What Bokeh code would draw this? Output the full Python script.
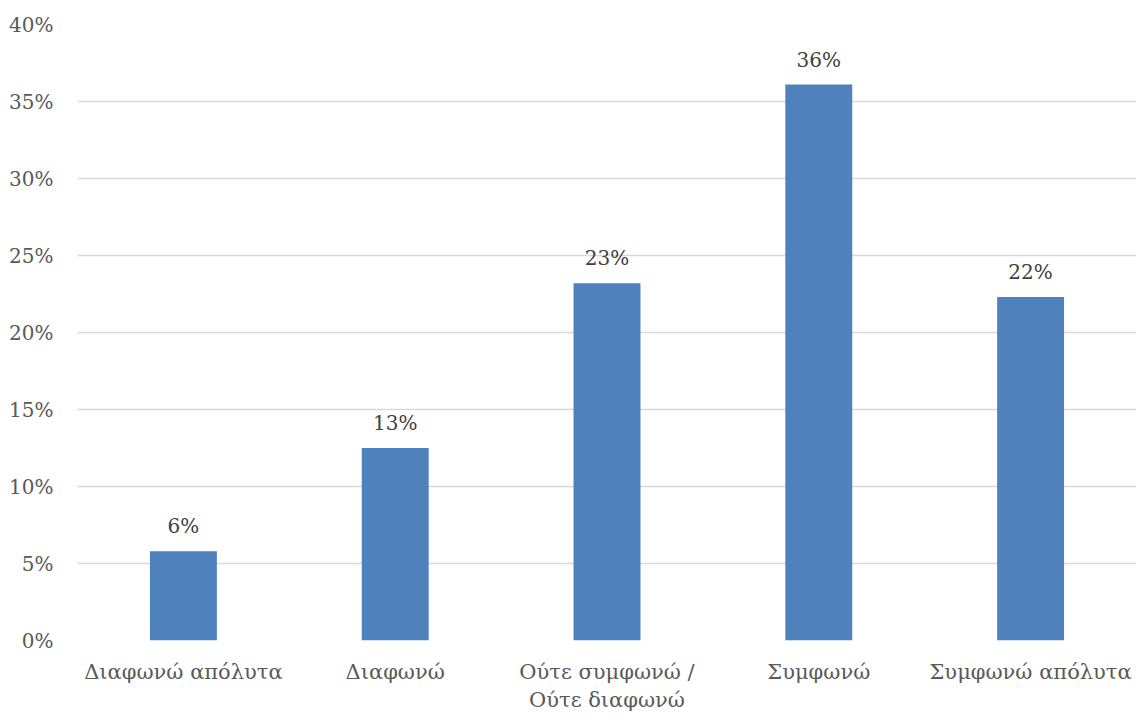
from bokeh.plotting import figure
from bokeh.models import ColumnDataSource, NumeralTickFormatter, FixedTicker, Range1d
from bokeh.core.properties import value
from bokeh.embed import file_html
from bokeh.resources import INLINE

categories = ["Διαφωνώ απόλυτα", "Διαφωνώ", "Ούτε συμφωνώ /\nΟύτε διαφωνώ", "Συμφωνώ", "Συμφωνώ απόλυτα"]
values = [0.058, 0.125, 0.232, 0.361, 0.223]
labels = ["6%", "13%", "23%", "36%", "22%"]
y_ticks = [0, 0.05, 0.10, 0.15, 0.20, 0.25, 0.30, 0.35, 0.40]

FONT = "DejaVu Serif"
GREY = "#595959"

src = ColumnDataSource(dict(cat=categories, val=values, lab=labels))

p = figure(x_range=categories, y_range=Range1d(0, 0.40), width=1136, height=724,
           output_backend="svg", toolbar_location=None,
           min_border_left=77, min_border_right=0, min_border_top=24, min_border_bottom=84)
p.outline_line_color = None

p.vbar(x="cat", top="val", width=0.316, source=src, fill_color="#4f81bd", line_color=None)
p.text(x="cat", y="val", text="lab", source=src, text_align="center", text_baseline="bottom",
       y_offset=-13, text_font=value(FONT), text_font_size="20px", text_color="#404040")

p.yaxis.ticker = FixedTicker(ticks=y_ticks)
p.yaxis.formatter = NumeralTickFormatter(format="0%")
for ax in (p.xaxis, p.yaxis):
    ax.axis_line_color = None
    ax.major_tick_line_color = None
    ax.minor_tick_line_color = None
    ax.major_label_text_font = FONT
    ax.major_label_text_color = GREY
p.yaxis.major_label_text_font_size = "20px"
p.xaxis.major_label_text_font_size = "21px"
p.yaxis.major_label_standoff = 18
p.xaxis.major_label_standoff = 13

p.xgrid.grid_line_color = None
p.ygrid.grid_line_color = "#d9d9d9"
p.ygrid.grid_line_width = 1.5
p.ygrid.ticker = FixedTicker(ticks=y_ticks)

open("out.html", "w").write(file_html(p, INLINE))
